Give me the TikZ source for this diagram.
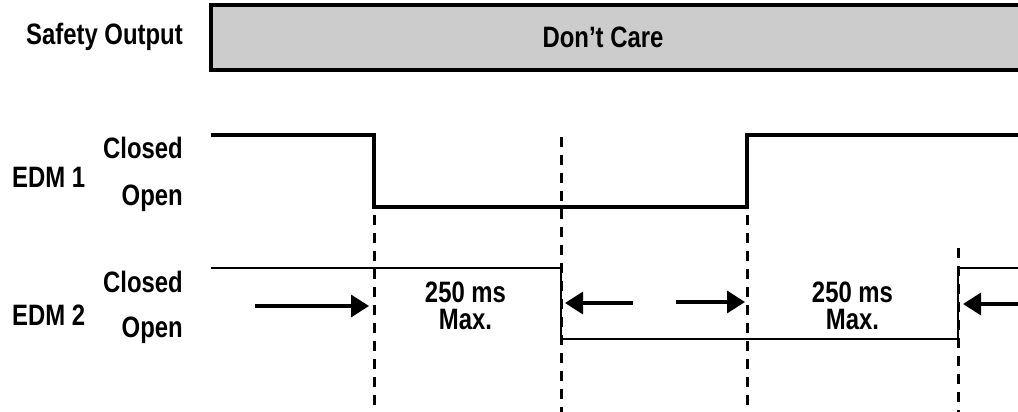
\documentclass[tikz,border=0pt]{standalone}
\usepackage{fontspec}
\setmainfont{Liberation Sans}[FakeStretch=0.81]
\usepackage{tikz}
\usetikzlibrary{arrows.meta,positioning,calc}
\tikzset{
  Lbl/.style={font=\fontsize{29.5}{31}\selectfont\bfseries, inner sep=0pt, anchor=base},
  Slbl/.style={Lbl, anchor=base east},
  Tlbl/.style={font=\fontsize{29.5}{27}\selectfont\bfseries, align=center, inner sep=0pt},
  Wave/.style={line width=3.2pt, line join=miter},
  Wavethin/.style={line width=2.6pt, line join=miter},
  Mark/.style={line width=3pt, dash pattern=on 10pt off 8pt},
  Tarr/.style={-{Triangle[length=18pt,width=22pt]}, line width=3.4pt}
}
\begin{document}
\begin{tikzpicture}[x=1pt,y=-1pt]
  \clip (0,0) rectangle (1018,412);

  % safety output bar
  \draw[line width=3.2pt, fill=black!20] (211,5) rectangle (1040,70);
  \node[Slbl] (so) at (183,45) {Safety Output};
  \node[Lbl] (dc) at (603,48) {Don’t Care};

  % signal labels
  \node[Lbl, anchor=base west] (e1) at (12,187) {EDM 1};
  \node[Slbl] (e1c) at (183,158) {Closed};
  \node[Slbl] (e1o) at (183,205) {Open};
  \node[Lbl, anchor=base west] (e2) at (12,325) {EDM 2};
  \node[Slbl] (e2c) at (183,292) {Closed};
  \node[Slbl] (e2o) at (183,337) {Open};

  % edge times
  \coordinate (ta) at (374,0);
  \coordinate (tb) at (561,0);
  \coordinate (tc) at (747,0);
  \coordinate (td) at (958,0);

  \draw[Wave] (211,135) -- (ta |- 0,135) -- (ta |- 0,207) -- (tc |- 0,207)
    -- (tc |- 0,135) -- (1030,135);
  \draw[Wavethin] (211,268) -- (tb |- 0,268) -- (tb |- 0,339) -- (td |- 0,339)
    -- (td |- 0,268) -- (1030,268);

  \draw[Mark] (ta |- 0,215) -- (ta |- 0,412);
  \draw[Mark] (tb |- 0,137) -- (tb |- 0,412);
  \draw[Mark] (tc |- 0,215) -- (tc |- 0,412);
  \draw[Mark] (td |- 0,248) -- (td |- 0,412);

  \node[Tlbl] (w1) at ($(ta)!0.5!(tb)+(-2,306)$) {250 ms\\Max.};
  \node[Tlbl] (w2) at ($(tc)!0.5!(td)+(0,306)$) {250 ms\\Max.};

  \coordinate (a1) at (255,306);
  \coordinate (a2) at (633,303);
  \coordinate (a3) at (676,302);
  \coordinate (a4) at (1018,304);
  \draw[Tarr] (a1) -- ($(ta |- a1)+(-5,0)$);
  \draw[Tarr] (a2) -- ($(tb |- a2)+(4,0)$);
  \draw[Tarr] (a3) -- ($(tc |- a3)+(-2,0)$);
  \draw[Tarr] (a4) -- ($(td |- a4)+(5,0)$);
\end{tikzpicture}
\end{document}
